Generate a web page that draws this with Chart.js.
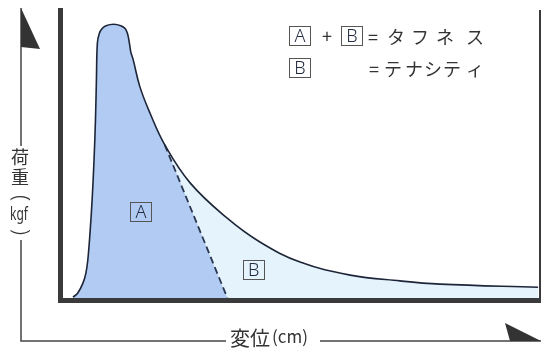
<!DOCTYPE html>
<html lang="ja">
<head>
<meta charset="UTF-8">
<title>タフネスとテナシティ</title>
<script src="https://cdn.jsdelivr.net/npm/chart.js"></script>
<style>
    body { margin: 0; background: #fff; }
    #wrap { width: 541px; height: 348px; }
</style>
</head>
<body>
<div id="wrap"><canvas id="loadChart" width="541" height="348"></canvas></div>
<script>
// load-displacement curve (x: 0..100, y: 0..100 of frame)
const dispX = [2.3, 3.3, 4.4, 5.0, 5.4, 5.9, 6.3, 6.7, 7.0, 7.2, 7.4, 7.8, 8.4, 9.2, 10.8, 12.3, 13.2, 13.7, 14.1, 14.4, 14.9, 16.3, 18.4, 21.5, 26.8, 34.5, 41.4, 49.8, 60.3, 70.7, 79.1, 99.6];
const loadY = [0.3, 1.7, 5.2, 8.6, 13.1, 23.4, 33.8, 47.6, 61.4, 75.2, 87.9, 91.2, 92.9, 93.9, 94.4, 93.9, 92.9, 91.2, 87.9, 84.8, 82.1, 72.8, 63.8, 52.8, 39.7, 27.6, 19.3, 12.4, 7.9, 5.9, 4.8, 3.7];

// dashed divider between A and B
const dividerX = [21.5, 34.6];
const dividerY = [52.8, 0];

// boxed area labels
const areaNames = ['A', 'B'];
const areaX = [16.5, 40.1];
const areaY = [29.7, 9.7];

const curvePts = dispX.map((x, i) => ({ x: x, y: loadY[i] }));
// area A = curve up to the divider start, then down the divider
const areaAPts = curvePts.filter(p => p.x <= dividerX[0]).concat([{ x: dividerX[1], y: dividerY[1] }]);
const dividerPts = dividerX.map((x, i) => ({ x: x, y: dividerY[i] }));

const JP = '"Noto Sans CJK JP", "Noto Sans", sans-serif';

function boxLetter(ctx, ch, cx, cy) {
    ctx.strokeStyle = '#555';
    ctx.lineWidth = 1;
    ctx.strokeRect(Math.round(cx - 11) + 0.5, Math.round(cy - 10) + 0.5, 21, 19);
    ctx.fillStyle = '#222a40';
    ctx.font = '300 18px "Noto Sans", "Liberation Sans", sans-serif';
    ctx.textAlign = 'center';
    ctx.textBaseline = 'middle';
    ctx.fillText(ch, cx, cy + 1);
}

const decor = {
    id: 'decor',
    afterDraw(chart) {
        const ctx = chart.ctx;
        const a = chart.chartArea;
        const xs = chart.scales.x, ys = chart.scales.y;
        ctx.save();

        // frame
        ctx.fillStyle = '#3a3a3a';
        ctx.fillRect(58, 8, 5, 295);
        ctx.fillRect(58, a.bottom, 483, 5);
        ctx.fillRect(539, 10, 2, 293);

        // outer axis lines
        ctx.strokeStyle = '#444';
        ctx.lineWidth = 1.5;
        ctx.beginPath();
        ctx.moveTo(21, 8); ctx.lineTo(21, 146);
        ctx.moveTo(21, 240); ctx.lineTo(21, 341);
        ctx.lineTo(226, 341);
        ctx.moveTo(320, 341); ctx.lineTo(541, 341);
        ctx.stroke();

        // arrow heads
        ctx.fillStyle = '#333';
        ctx.beginPath();
        ctx.moveTo(21, 8); ctx.lineTo(40, 49); ctx.lineTo(21, 47); ctx.closePath();
        ctx.fill();
        ctx.beginPath();
        ctx.moveTo(505, 323); ctx.lineTo(541, 341); ctx.lineTo(510, 341); ctx.closePath();
        ctx.fill();

        // y title, vertical
        ctx.fillStyle = '#333';
        ctx.textAlign = 'center';
        ctx.textBaseline = 'middle';
        ctx.font = '18px ' + JP;
        ctx.fillText('荷', 20, 157);
        ctx.fillText('重', 20, 177);
        ctx.font = '300 22px "Noto Sans", sans-serif';
        ctx.save(); ctx.translate(20, 198); ctx.rotate(Math.PI / 2); ctx.fillText('(', 0, 0); ctx.restore();
        ctx.save(); ctx.translate(20, 232); ctx.rotate(Math.PI / 2); ctx.fillText(')', 0, 0); ctx.restore();
        ctx.save(); ctx.translate(19, 215); ctx.scale(0.8, 1.2);
        ctx.font = '15px "Noto Sans", sans-serif';
        ctx.fillText('kgf', 0, 0);
        ctx.restore();

        // x title
        ctx.textAlign = 'left';
        ctx.font = '20px ' + JP;
        ctx.fillText('変位', 230, 338);
        ctx.font = '17px ' + JP;
        ctx.fillText('(cm)', 272, 337);

        // legend
        boxLetter(ctx, 'A', 300, 36);
        boxLetter(ctx, 'B', 352, 36);
        boxLetter(ctx, 'B', 300, 68);
        ctx.fillStyle = '#333';
        ctx.font = '18px ' + JP;
        ctx.textAlign = 'center';
        ctx.textBaseline = 'middle';
        ctx.fillText('+', 327, 36);
        const row1 = ['=', 'タ', 'フ', 'ネ', 'ス'];
        const pos1 = [373, 396, 420, 445, 475];
        row1.forEach((c, i) => ctx.fillText(c, pos1[i], 37));
        const row2 = ['=', 'テ', 'ナ', 'シ', 'テ', 'ィ'];
        const pos2 = [374, 393, 414, 433, 452, 475];
        row2.forEach((c, i) => ctx.fillText(c, pos2[i], 69));

        // area labels
        areaNames.forEach((n, i) => {
            boxLetter(ctx, n, xs.getPixelForValue(areaX[i]), ys.getPixelForValue(areaY[i]));
        });
        ctx.restore();
    }
};

new Chart(document.getElementById('loadChart'), {
    type: 'line',
    data: {
        datasets: [
            {
                // curve outline
                data: curvePts,
                borderColor: '#1d2538',
                borderWidth: 1.6,
                fill: false,
                pointRadius: 0,
                tension: 0.4
            },
            {
                data: dividerPts,
                borderColor: '#2a3550',
                borderWidth: 1.8,
                borderDash: [7, 4],
                fill: false,
                pointRadius: 0,
                tension: 0
            },
            {
                // area A
                data: areaAPts,
                borderWidth: 0,
                backgroundColor: '#b1cbf2',
                fill: 'origin',
                pointRadius: 0,
                tension: 0.4
            },
            {
                // area B
                data: curvePts,
                borderWidth: 0,
                backgroundColor: '#e5f3fc',
                fill: 'origin',
                pointRadius: 0,
                tension: 0.4
            }
        ]
    },
    options: {
        responsive: false,
        animation: false,
        layout: { padding: { left: 62, right: 1, top: 8, bottom: 50 } },
        scales: {
            x: { type: 'linear', min: 0, max: 100, display: false },
            y: { min: 0, max: 100, display: false }
        },
        plugins: {
            legend: { display: false },
            tooltip: { enabled: false }
        }
    },
    plugins: [decor]
});
</script>
</body>
</html>
